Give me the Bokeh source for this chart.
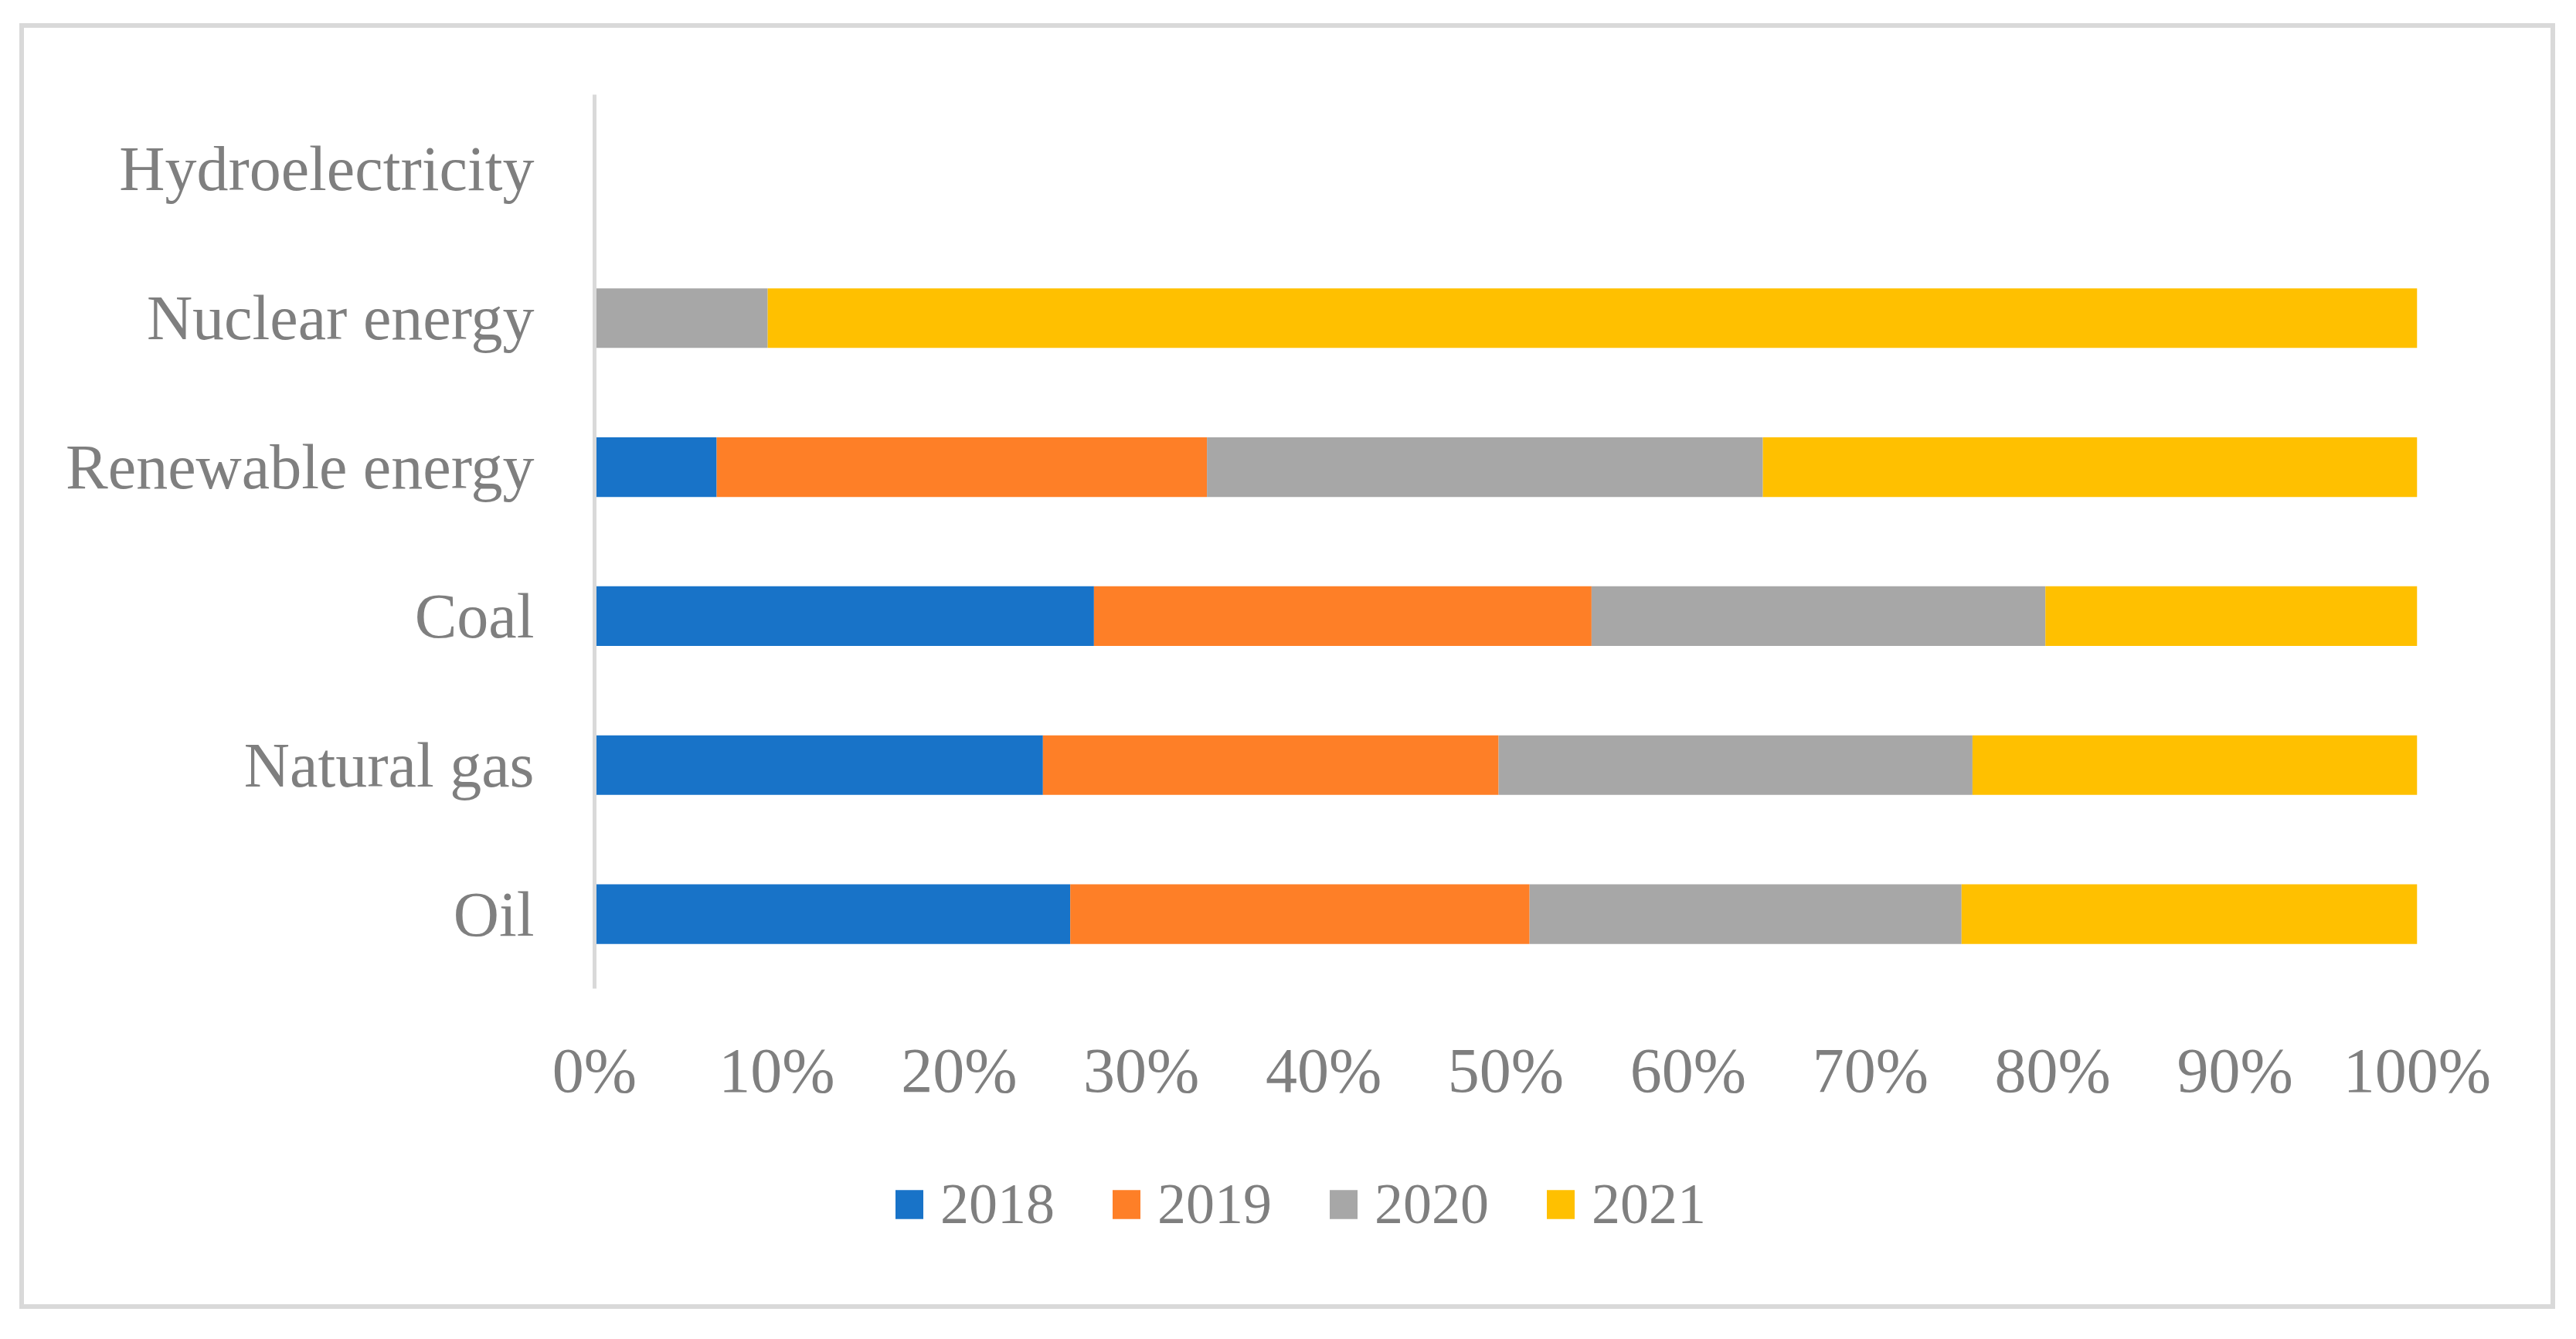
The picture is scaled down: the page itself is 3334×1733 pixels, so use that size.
from bokeh.plotting import figure
from bokeh.layouts import column
from bokeh.models import (ColumnDataSource, FactorRange, Range1d, FixedTicker,
                          PrintfTickFormatter, Legend, LegendItem)
from bokeh.embed import file_html
from bokeh.resources import INLINE

# ---- data (shares in %, 100% stacked) ----
categories = ["Oil", "Natural gas", "Coal", "Renewable energy", "Nuclear energy", "Hydroelectricity"]
years = ["2018", "2019", "2020", "2021"]
s2018 = [26.1, 24.6, 27.4, 6.7, 0.0, 0.0]
s2019 = [25.2, 25.0, 27.3, 26.9, 0.0, 0.0]
s2020 = [23.7, 26.0, 24.9, 30.5, 9.5, 0.0]
s2021 = [25.0, 24.4, 20.4, 35.9, 90.5, 0.0]
x_ticks = [0, 10, 20, 30, 40, 50, 60, 70, 80, 90, 100]

colors = ["#1873C8", "#FE7F27", "#A7A7A7", "#FFC000"]
FONT = "Liberation Serif"
TXT = "#7f7f7f"

source = ColumnDataSource(data=dict(cat=categories, **{"2018": s2018, "2019": s2019,
                                                        "2020": s2020, "2021": s2021}))

W, H1, H2 = 3270, 1444, 208
p = figure(width=W, height=H1, output_backend="svg", toolbar_location=None,
           y_range=FactorRange(*categories), x_range=Range1d(0, 100),
           min_border_left=738, min_border_right=173, min_border_top=86,
           min_border_bottom=201)
p.outline_line_color = None
p.background_fill_color = "white"
p.border_fill_color = "white"

renderers = p.hbar_stack(years, y="cat", height=0.4, color=colors, source=source,
                         line_color=None)

p.xgrid.grid_line_color = None
p.ygrid.grid_line_color = None

xa = p.xaxis[0]
xa.ticker = FixedTicker(ticks=x_ticks)
xa.formatter = PrintfTickFormatter(format="%d%%")
xa.axis_line_color = None
xa.major_tick_line_color = None
xa.minor_tick_line_color = None
xa.major_label_text_font = FONT
xa.major_label_text_font_size = "82px"
xa.major_label_text_color = TXT
xa.major_label_standoff = 54

ya = p.yaxis[0]
ya.axis_line_color = "#d9d9d9"
ya.axis_line_width = 5
ya.major_tick_line_color = None
ya.minor_tick_line_color = None
ya.major_tick_out = 0
ya.major_label_text_font = FONT
ya.major_label_text_font_size = "82px"
ya.major_label_text_color = TXT
ya.major_label_standoff = 78

# ---- legend strip (same series colours) ----
p2 = figure(width=W, height=H2, output_backend="svg", toolbar_location=None,
            x_axis_location=None, y_axis_location=None,
            x_range=Range1d(0, 1), y_range=Range1d(0, 1),
            min_border_left=0, min_border_right=0, min_border_top=0, min_border_bottom=0)
p2.outline_line_color = None
p2.xgrid.grid_line_color = None
p2.ygrid.grid_line_color = None
p2.background_fill_color = "white"
p2.border_fill_color = "white"
leg_src = ColumnDataSource(data=dict(y=[-5.0], left=[0.0], right=[0.0]))
leg_renderers = [p2.hbar(y="y", left="left", right="right", height=0.4, color=c,
                         line_color=None, source=leg_src)
                 for c in colors]

legend = Legend(items=[LegendItem(label=y, renderers=[r], index=0)
                       for y, r in zip(years, leg_renderers)],
                orientation="horizontal", location=(385, 87))
legend.label_text_font = FONT
legend.label_text_font_size = "74px"
legend.label_text_color = TXT
legend.glyph_width = 45
legend.glyph_height = 47
legend.label_height = 47
legend.label_standoff = 18
legend.spacing = 70
legend.padding = 0
legend.margin = 0
legend.border_line_color = None
legend.background_fill_alpha = 0
p2.add_layout(legend, "center")

layout = column(p, p2, spacing=0,
                styles={"margin-left": "31px", "margin-top": "36px",
                        "outline": "6px solid #d9d9d9", "outline-offset": "0px"})

open("out.html", "w").write(file_html(layout, INLINE))
